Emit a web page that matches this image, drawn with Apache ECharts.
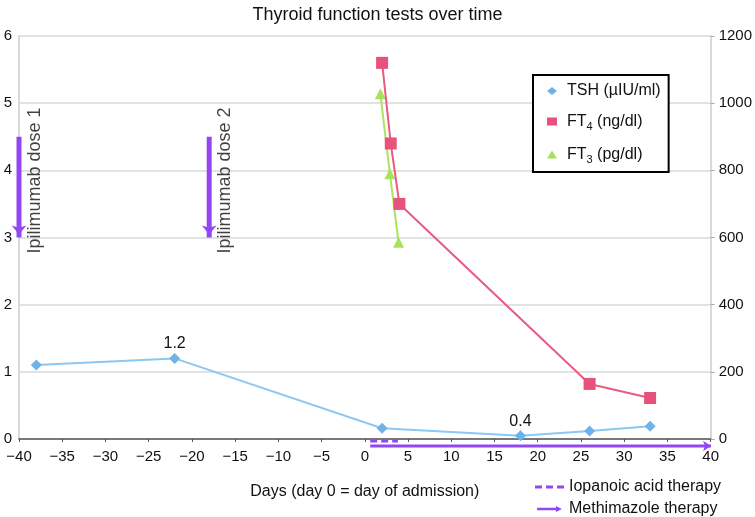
<!DOCTYPE html>
<html>
<head>
<meta charset="utf-8">
<script src="https://cdn.jsdelivr.net/npm/echarts@6/dist/echarts.min.js"></script>
<style>html,body{margin:0;padding:0;background:#fff}#c{width:755px;height:517px}</style>
</head>
<body>
<div id="c"></div>
<script>
// ---- data ----
var tshData = [[-38, 1.1], [-22, 1.2], [2, 0.16], [18, 0.05], [26, 0.12], [33, 0.19]];
var tshLabels = {"-22": "1.2", "18": "0.4"};
var ft4Data = [[2, 1120], [3, 880], [4, 700], [26, 164], [33, 122]];
var ft3Data = [[1.8, 1028], [2.9, 790], [3.9, 586]];
var ipiDose1 = [[-40, 4.5], [-40, 3.0]];
var ipiDose2 = [[-18, 4.5], [-18, 3.0]];
var ipiLabelPos = [[-40, 3.85, "Ipilimumab dose 1"], [-18, 3.85, "Ipilimumab dose 2"]];
var iopanoic = [[0.6, 0.8], [3.8, 0.8]];
var methimazole = [[0.6, 0.3], [40, 0.3]];
var leftTicks = [0, 6, 1];
var rightTicks = [0, 1200, 200];
var xTicks = [-40, 40, 5];

var FONT = "'Liberation Sans', Arial, Helvetica, sans-serif";
var PURPLE = '#9148f2';
var chart = echarts.init(document.getElementById('c'));

function minus(v) { return String(v).replace('-', '\u2212'); }

var option = {
  animation: false,
  textStyle: {fontFamily: FONT},
  title: {
    text: 'Thyroid function tests over time',
    left: 'center', top: 1,
    textStyle: {fontFamily: FONT, fontSize: 18, fontWeight: 'normal', color: '#111'}
  },
  grid: [
    {left: 19, right: 44, top: 36, bottom: 78},
    {left: 19, right: 44, top: 439, height: 10}
  ],
  xAxis: [
    {
      type: 'value', gridIndex: 0, min: xTicks[0], max: xTicks[1], interval: xTicks[2],
      name: 'Days (day 0 = day of admission)', nameLocation: 'middle', nameGap: 45,
      nameTextStyle: {fontFamily: FONT, fontSize: 16, color: '#111'},
      axisLine: {show: true, onZero: false, lineStyle: {color: '#555', width: 1.5}},
      axisTick: {show: true, length: 3, lineStyle: {color: '#555'}},
      splitLine: {show: false},
      axisLabel: {fontFamily: FONT, fontSize: 15, color: '#111', margin: 10, formatter: minus}
    },
    {
      type: 'value', gridIndex: 1, min: xTicks[0], max: xTicks[1],
      show: false
    }
  ],
  yAxis: [
    {
      type: 'value', gridIndex: 0, min: leftTicks[0], max: leftTicks[1], interval: leftTicks[2],
      axisLine: {show: true, onZero: false, lineStyle: {color: '#c9cece', width: 1.5}},
      axisTick: {show: false},
      splitLine: {show: true, lineStyle: {color: '#d5dada', width: 1.5}},
      axisLabel: {fontFamily: FONT, fontSize: 15, color: '#111', margin: 7}
    },
    {
      type: 'value', gridIndex: 0, position: 'right', min: rightTicks[0], max: rightTicks[1], interval: rightTicks[2],
      axisLine: {show: true, onZero: false, lineStyle: {color: '#c9cece', width: 1.5}},
      axisTick: {show: true, length: 4, lineStyle: {color: '#aaa'}},
      splitLine: {show: false},
      axisLabel: {fontFamily: FONT, fontSize: 15, color: '#111', margin: 8,
        formatter: function (v) { return String(v); }}
    },
    {
      type: 'value', gridIndex: 1, min: 0, max: 1, show: false
    }
  ],
  legend: [
    {
      orient: 'vertical', left: 533, top: 75,
      padding: [8, 8, 7, 14], itemGap: 13,
      borderColor: '#000', borderWidth: 2, backgroundColor: '#fff',
      itemWidth: 10, itemHeight: 8,
      data: [
        {name: 'TSH', icon: 'diamond'},
        {name: 'FT4', icon: 'rect'},
        {name: 'FT3', icon: 'triangle'}
      ],
      formatter: function (n) {
        if (n === 'TSH') return '{p|TSH (\u00b5IU/ml)}';
        if (n === 'FT4') return '{p|FT}{s|4}{a| (ng/dl)}';
        return '{p|FT}{s|3}{a| (pg/dl)}';
      },
      textStyle: {
        fontFamily: FONT, fontSize: 16, color: '#111',
        rich: {
          p: {fontFamily: FONT, fontSize: 16, color: '#111', lineHeight: 21, padding: [0, 0, 0, 5]},
          a: {fontFamily: FONT, fontSize: 16, color: '#111', lineHeight: 21},
          s: {fontFamily: FONT, fontSize: 11, color: '#111', verticalAlign: 'bottom', padding: [9, 0, 0, 0], lineHeight: 21}
        }
      }
    },
    {
      orient: 'vertical', left: 535, top: 479, height: 38, itemGap: 6, padding: 0,
      itemWidth: 29, itemHeight: 6,
      data: [
        {name: 'Iopanoic acid therapy', icon: 'path://M0,0h7v3h-7z M11,0h7v3h-7z M22,0h7v3h-7z'},
        {name: 'Methimazole therapy', icon: 'path://M0,2 L22,2 L22,0 L29,3.5 L22,7 L22,5 L0,5 Z'}
      ],
      textStyle: {fontFamily: FONT, fontSize: 16, color: '#111', lineHeight: 16}
    }
  ],
  series: [
    {
      name: 'TSH', type: 'line', xAxisIndex: 0, yAxisIndex: 0,
      symbol: 'diamond', symbolSize: 11,
      itemStyle: {color: '#6db3ea'},
      lineStyle: {color: '#8cc8f0', width: 2},
      data: tshData.map(function (d) {
        var lab = tshLabels[String(d[0])];
        var o = {value: d};
        if (lab) o.label = {show: true, position: 'top', distance: 1, formatter: lab,
          fontFamily: FONT, fontSize: 16, color: '#111'};
        return o;
      }),
      z: 5
    },
    {
      name: 'FT4', type: 'line', xAxisIndex: 0, yAxisIndex: 1,
      symbol: 'rect', symbolSize: 12,
      itemStyle: {color: '#e8517b'},
      lineStyle: {color: '#ea5a80', width: 2},
      data: ft4Data, z: 4
    },
    {
      name: 'FT3', type: 'line', xAxisIndex: 0, yAxisIndex: 1,
      symbol: 'triangle', symbolSize: 11,
      itemStyle: {color: '#a8e25a'},
      lineStyle: {color: '#ade35f', width: 2},
      data: ft3Data, z: 3
    },
    {
      name: 'ipi1', type: 'line', xAxisIndex: 0, yAxisIndex: 0, clip: false,
      lineStyle: {color: PURPLE, width: 5}, itemStyle: {color: PURPLE},
      data: [
        {value: ipiDose1[0], symbol: 'none'},
        {value: ipiDose1[1], symbol: 'arrow', symbolSize: [11, 9], symbolRotate: 180, symbolOffset: [0, -3]}
      ], z: 2
    },
    {
      name: 'ipi2', type: 'line', xAxisIndex: 0, yAxisIndex: 0, clip: false,
      lineStyle: {color: PURPLE, width: 5}, itemStyle: {color: PURPLE},
      data: [
        {value: ipiDose2[0], symbol: 'none'},
        {value: ipiDose2[1], symbol: 'arrow', symbolSize: [11, 9], symbolRotate: 180, symbolOffset: [0, -3]}
      ], z: 2
    },
    {
      name: 'ipiLabels', type: 'scatter', xAxisIndex: 0, yAxisIndex: 0, clip: false,
      symbolSize: 0,
      data: ipiLabelPos.map(function (d) { return {value: [d[0], d[1]], name: d[2]}; }),
      label: {
        show: true, position: 'right', distance: 16, rotate: 90,
        align: 'center', verticalAlign: 'middle',
        formatter: function (p) { return p.name; },
        fontFamily: FONT, fontSize: 18, color: '#111'
      }, z: 6
    },
    {
      name: 'Iopanoic acid therapy', type: 'line', xAxisIndex: 1, yAxisIndex: 2, clip: false,
      symbol: 'none',
      lineStyle: {color: PURPLE, width: 3, type: [7, 4]}, itemStyle: {color: PURPLE},
      data: iopanoic
    },
    {
      name: 'Methimazole therapy', type: 'line', xAxisIndex: 1, yAxisIndex: 2, clip: false,
      lineStyle: {color: PURPLE, width: 3}, itemStyle: {color: PURPLE},
      data: [
        {value: methimazole[0], symbol: 'none'},
        {value: methimazole[1], symbol: 'arrow', symbolSize: [8, 8], symbolRotate: -90, symbolOffset: [0, 0]}
      ]
    }
  ]
};
chart.setOption(option);
</script>
</body>
</html>
